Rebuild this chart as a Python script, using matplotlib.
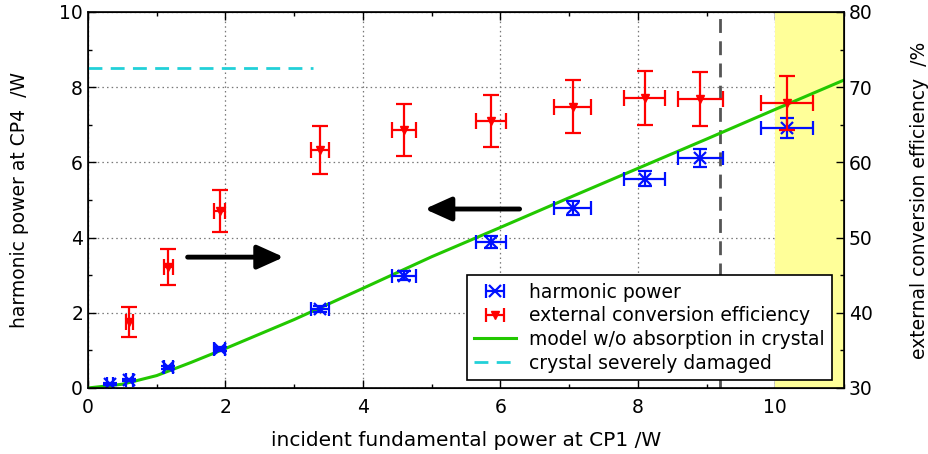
import matplotlib
matplotlib.use("Agg")
import matplotlib.pyplot as plt
from matplotlib.ticker import MultipleLocator

plt.rcParams['font.family'] = ['DejaVu Sans']
plt.rcParams['font.size'] = 13.5

# measured points (fundamental power at CP1 / W)
p_in = [0.32, 0.60, 1.17, 1.92, 3.38, 4.60, 5.86, 7.05, 8.10, 8.91, 10.17]
p_in_err = [0.05, 0.05, 0.06, 0.08, 0.13, 0.17, 0.22, 0.27, 0.30, 0.33, 0.38]

# harmonic power at CP4 / W
p_harm = [0.10, 0.22, 0.55, 1.03, 2.10, 2.98, 3.88, 4.78, 5.57, 6.12, 6.92]
p_harm_err = [0.03, 0.03, 0.04, 0.05, 0.09, 0.12, 0.15, 0.18, 0.21, 0.24, 0.27]

# external conversion efficiency / %
eff_x = [0.60, 1.17, 1.92, 3.38, 4.60, 5.86, 7.05, 8.10, 8.91, 10.17]
eff_x_err = [0.05, 0.06, 0.08, 0.13, 0.17, 0.22, 0.27, 0.30, 0.33, 0.38]
eff = [38.8, 46.1, 53.5, 61.6, 64.3, 65.5, 67.4, 68.6, 68.4, 67.9]
eff_err = [2.0, 2.4, 2.8, 3.2, 3.4, 3.5, 3.5, 3.6, 3.6, 3.6]

# model without absorption in crystal
model_x = [0, 0.5, 1.0, 1.5, 2.0, 3.0, 4.0, 5.0, 6.0, 7.0, 8.0, 9.0, 10.0, 11.0]
model_y = [0, 0.10, 0.33, 0.68, 1.05, 1.82, 2.65, 3.49, 4.27, 5.06, 5.84, 6.62, 7.41, 8.19]

damage_x = [0, 3.27]
damage_y = [8.5, 8.5]
damage_onset = 9.19
unstable_range = (10, 11)

blue = '#0010ff'
red = '#ff0000'
green = '#22c800'
cyan = '#22d0d8'

fig = plt.figure(figsize=(9.29, 4.54), dpi=100)
ax = fig.add_axes([0.0947, 0.1454, 0.8138, 0.8282])
ax2 = ax.twinx()

ax.set_xlim(0, 11)
ax.set_ylim(0, 10)
ax2.set_ylim(30, 80)

ax.set_axisbelow(True)
ax.grid(True, which='major', color='#777777', linestyle=(0, (1.2, 2.5)), linewidth=0.9)
ax.axvspan(*unstable_range, color='#ffff99', lw=0, zorder=1)
ax.axvline(damage_onset, color='#555555', lw=2, dashes=(5, 3), zorder=2)

ax.plot(model_x, model_y, color=green, lw=2.2, zorder=3)
ax.plot(damage_x, damage_y, color=cyan, lw=2, dashes=(5, 3), zorder=3)
ax.errorbar(p_in, p_harm, xerr=p_in_err, yerr=p_harm_err, fmt='x', color=blue,
            ms=9, mew=1.6, elinewidth=1.6, capsize=5, capthick=1.6, zorder=4)
ax2.errorbar(eff_x, eff, xerr=eff_x_err, yerr=eff_err, fmt='v', color=red,
             ms=6, elinewidth=1.6, capsize=6, capthick=1.6, zorder=4)

# arrows marking which axis each series belongs to
arrow = dict(arrowstyle='-|>,head_length=0.8,head_width=0.36', mutation_scale=20,
             color='black', lw=3.5, shrinkA=0, shrinkB=0)
ax.annotate('', xy=(2.85, 3.48), xytext=(1.45, 3.48), arrowprops=arrow)
ax.annotate('', xy=(4.90, 4.76), xytext=(6.28, 4.76), arrowprops=arrow)

for a in (ax, ax2):
    a.tick_params(which='both', direction='in')
    a.tick_params(which='major', length=6, width=1)
    a.tick_params(which='minor', length=3, width=1)
ax.tick_params(top=True, which='both')
ax.tick_params(axis='x', pad=7)
ax.xaxis.set_major_locator(MultipleLocator(2))
ax.xaxis.set_minor_locator(MultipleLocator(1))
ax.yaxis.set_major_locator(MultipleLocator(2))
ax.yaxis.set_minor_locator(MultipleLocator(1))
ax2.yaxis.set_major_locator(MultipleLocator(10))
ax2.yaxis.set_minor_locator(MultipleLocator(5))
for s in ax2.spines.values():
    s.set_linewidth(1.2)

ax.set_xlabel('incident fundamental power at CP1 /W', labelpad=10, fontsize=14.5)
ax.set_ylabel('harmonic power at CP4  /W', labelpad=22)
ax2.set_ylabel('external conversion efficiency  /%', labelpad=27)

# legend entries with horizontal bars only, drawn outside the view
h1 = ax2.errorbar([-50], [0], xerr=[1], fmt='x', color=blue, ms=9, mew=1.6,
                  elinewidth=1.6, capsize=5, capthick=1.6)
h2 = ax2.errorbar([-50], [0], xerr=[1], fmt='v', color=red, ms=6,
                  elinewidth=1.6, capsize=5, capthick=1.6)
h3, = ax2.plot([], [], color=green, lw=2.2)
h4, = ax2.plot([], [], color=cyan, lw=2, dashes=(5, 3))
ax2.set_xlim(0, 11)
leg = ax2.legend([h1, h2, h3, h4],
                 ['harmonic power', 'external conversion efficiency',
                  'model w/o absorption in crystal', 'crystal severely damaged'],
                 loc='lower right', bbox_to_anchor=(0.984, 0.021), borderaxespad=0,
                 fancybox=False, framealpha=1, edgecolor='black', handlelength=2.2,
                 borderpad=0.4, labelspacing=0.25, handletextpad=0.7)
leg.get_frame().set_linewidth(1.2)

fig.savefig('out.png', dpi=100)
